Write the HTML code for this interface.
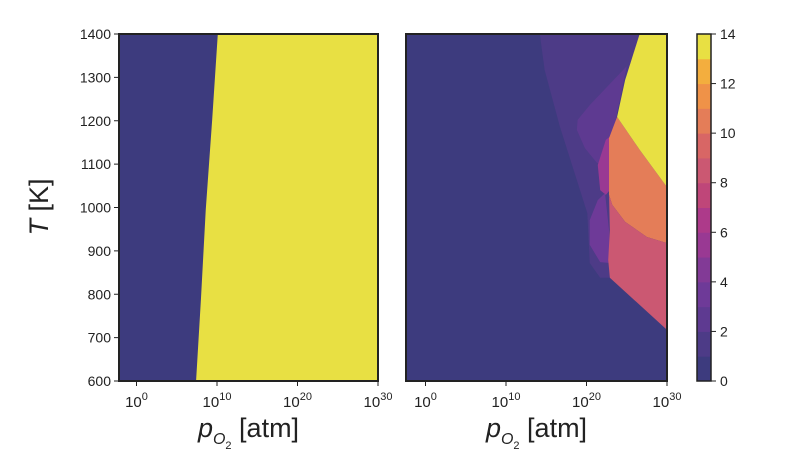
<!DOCTYPE html>
<html><head><meta charset="utf-8"><style>
body{margin:0;background:#fff}
svg{font-family:"Liberation Sans","DejaVu Sans",sans-serif}
</style></head><body>
<svg id="c" width="800" height="450"></svg>
<script>
const levelColors=["#3d3b7e","#4d3b87","#5e3a91","#6e3a98","#823a96","#993993","#ad3a8a","#bf4679","#cb5872","#d86665","#e47d58","#ef9248","#f3ae3e","#f1c63c"];
const topColor="#e8e043";
const cbTicks=[0,2,4,6,8,10,12,14];
const xTicks=[0,10,20,30];
const yTicks=[600,700,800,900,1000,1100,1200,1300,1400];
// left panel boundary (log pO2, T)
const leftBoundary=[[10.1,1400],[9.4,1202],[8.6,994],[8.0,787],[7.4,600]];
// right panel contour regions [level, polygon]
const regionL1=[[14.2,1400],[26.6,1400],[23.8,1218],[22.9,838],[21.7,838],[20.4,872],[20.1,987],[16.7,1186],[14.8,1317]];
const regionL2=[[25.0,1326],[23.8,1218],[23.2,1156],[22.3,1098],[21.3,1103],[19.8,1137],[18.8,1179],[18.9,1202],[20.4,1236]];
const regionL5=[[22.9,1163],[22.4,1156],[21.4,1098],[21.7,1040],[22.4,1029],[22.9,1040]];
const regionL3=[[22.3,1033],[21.4,1017],[20.4,971],[20.4,914],[21.7,874],[22.9,872],[22.8,948]];
const regionL10=[[23.8,1209],[26.6,1133],[30,1047],[30,918],[27.5,932],[24.8,967],[23.2,1006],[22.8,1029],[22.8,1160]];
const regionL8=[[22.8,1029],[23.2,1006],[24.8,967],[27.5,932],[30,918],[30,718],[22.9,838],[22.7,879],[22.9,948]];
const regionTop=[[26.6,1400],[30,1400],[30,1047],[26.6,1133],[23.8,1209],[24.8,1294]];
const rightRegions=[[1,regionL1],[2,regionL2],[5,regionL5],[3,regionL3],[10,regionL10],[8,regionL8],[14,regionTop]];

const NS="http://www.w3.org/2000/svg";
const svg=document.getElementById('c');
function mk(t,a,p){const e=document.createElementNS(NS,t);for(const k in a)e.setAttribute(k,a[k]);(p||svg).appendChild(e);return e;}
const yTop=34,yBot=381;
function ys(T){return yBot-(T-600)/(800)*(yBot-yTop);}
function xsL(d){return 136.5+d*8.05;}
function xsR(d){return 425.5+d*8.05;}
function col(l){return l>=14?topColor:levelColors[l];}

function panel(x0,x1,xs,name){
  const g=mk('g',{});
  
  
  const bg=mk('rect',{x:x0,y:yTop,width:x1-x0,height:yBot-yTop,fill:levelColors[0]},g);
  
  
  return g;
}
function ticksX(x0,x1,xs,g){
  xTicks.forEach(t=>{
    const x=xs(t);
    mk('line',{x1:x,x2:x,y1:yBot,y2:yBot+5,stroke:'#222','stroke-width':1},g);
    const tx=mk('text',{x:x,y:yBot+26,'text-anchor':'middle','font-size':15,fill:'#222'},g);
    
    
    tx.innerHTML='10<tspan dy="-7" font-size="11">'+t+'</tspan>';
  });
  const lab=mk('text',{x:(x0+x1)/2,y:437,'text-anchor':'middle','font-size':27,fill:'#222'},g);
  
  
  lab.innerHTML='<tspan font-style="italic">p</tspan><tspan dy="7" font-size="16" font-style="italic">O</tspan><tspan dy="5" font-size="11">2</tspan><tspan dy="-12"> [atm]</tspan>';
}
// Left panel
const gL=panel(119,378,xsL,'left-panel');
const pts=leftBoundary.map(p=>xsL(p[0])+','+ys(p[1]));
const lp=mk('polygon',{points:pts.join(' ')+' 378,'+yBot+' 378,'+yTop,fill:topColor},gL);


mk('rect',{x:119,y:yTop,width:259,height:yBot-yTop,fill:'none',stroke:'#222','stroke-width':2},gL);
yTicks.forEach(t=>{
  const y=ys(t);
  mk('line',{x1:114,x2:119,y1:y,y2:y,stroke:'#222'},gL);
  const tx=mk('text',{x:111,y:y+5,'text-anchor':'end','font-size':14,fill:'#222'},gL);
  
  
  tx.textContent=t;
});
ticksX(119,378,xsL,gL);
const yl=mk('text',{x:0,y:0,'text-anchor':'middle','font-size':27,fill:'#222',transform:'translate(48,207) rotate(-90)'});


yl.innerHTML='<tspan font-style="italic">T</tspan> [K]';

// Right panel
const gR=panel(406,667,xsR,'right-panel');
rightRegions.forEach(r=>{
  const p=mk('polygon',{points:r[1].map(q=>xsR(q[0])+','+ys(q[1])).join(' '),fill:col(r[0])},gR);
  
  
});
mk('rect',{x:406,y:yTop,width:261,height:yBot-yTop,fill:'none',stroke:'#222','stroke-width':2},gR);
ticksX(406,667,xsR,gR);

// Colorbar
const gC=mk('g',{});


function cy(v){return yBot-v/14*(yBot-yTop);}
for(let i=0;i<14;i++){
  const r=mk('rect',{x:697,y:cy(i+1),width:14,height:cy(i)-cy(i+1)+0.5,fill:i==13?topColor:levelColors[i+0>13?13:i]},gC);
  
  
}
mk('rect',{x:697,y:yTop,width:14,height:yBot-yTop,fill:'none',stroke:'#222','stroke-width':1.5},gC);
cbTicks.forEach(t=>{
  const y=cy(t);
  mk('line',{x1:711,x2:716,y1:y,y2:y,stroke:'#222'},gC);
  const tx=mk('text',{x:720,y:y+5,'font-size':14,fill:'#222'},gC);
  
  
  tx.textContent=t;
});
</script>
</body></html>
